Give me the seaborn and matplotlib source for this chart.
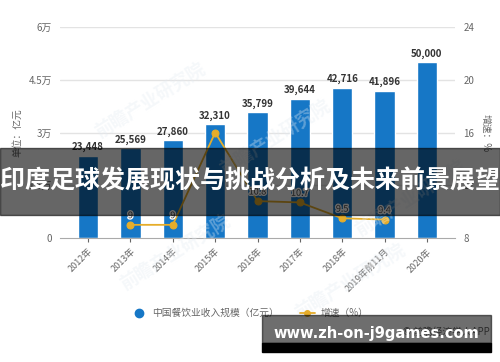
import numpy as np
import pandas as pd
import seaborn as sns
import matplotlib
matplotlib.use('Agg')
import matplotlib.pyplot as plt
import matplotlib.patheffects as pe
from matplotlib.patches import Rectangle
from matplotlib.lines import Line2D

# --- Data ---
years = ['2012年', '2013年', '2014年', '2015年', '2016年', '2017年',
         '2018年', '2019年前11月', '2020年']
revenue = [23448, 25569, 27860, 32310, 35799, 39644, 42716, 41896, 50000]
growth_years = ['2013年', '2014年', '2015年', '2016年', '2017年', '2018年', '2019年前11月']
growth = [9, 9, 16, 10.8, 10.7, 9.5, 9.4]
growth_labels = ['9', '9', '', '10.8', '10.7', '9.5', '9.4']
left_ticks = [0, 15000, 30000, 45000, 60000]
left_ticklabels = ['0', '1.5万', '3万', '4.5万', '6万']
right_ticks = [8, 12, 16, 20, 24]

BAR = '#1677c6'
LINE = '#e6ad2a'
GREY = '#666666'

sns.set_theme(style='white')
plt.rcParams['font.family'] = ['Noto Sans CJK SC', 'DejaVu Sans']

fig = plt.figure(figsize=(5, 3.62), dpi=100)
ax = fig.add_axes([0.12, 0.3425, 0.79, 0.5825])

df = pd.DataFrame({'year': years, 'revenue': revenue})
sns.barplot(data=df, x='year', y='revenue', color=BAR, width=0.48,
            saturation=1, ax=ax)
ax.set_ylim(0, 60000)
ax.set_yticks(left_ticks)
ax.set_yticklabels(left_ticklabels)
for y in left_ticks[1:]:
    ax.axhline(y, color='#e3e3e3', lw=1, zorder=0)
ax.set_xlabel('')
ax.set_ylabel('单位：亿元', fontsize=7, color=GREY, labelpad=4)
ax.tick_params(axis='y', labelsize=7, colors=GREY, length=0, pad=6)
ax.tick_params(axis='x', labelsize=6.5, colors=GREY, length=3, width=0.8,
               direction='out', bottom=True)
for lab in ax.get_xticklabels():
    lab.set_rotation(45)
    lab.set_ha('right')
    lab.set_rotation_mode('anchor')
for s in ['top', 'right', 'left']:
    ax.spines[s].set_visible(False)
ax.spines['bottom'].set_color('#aaaaaa')
ax.spines['bottom'].set_linewidth(0.8)

for i, v in enumerate(revenue):
    ax.text(i, v + 1000, f'{v:,}', ha='center', va='bottom', fontsize=7,
            fontweight='bold', color='#333333')

# growth line on right axis
ax2 = ax.twinx()
gx = [years.index(y) for y in growth_years]
sns.lineplot(x=gx, y=growth, color=LINE, lw=1.3, marker='o', markersize=5,
             markeredgecolor=LINE, ax=ax2)
ax2.set_ylim(8, 24)
ax2.set_yticks(right_ticks)
ax2.set_ylabel('增速：%', fontsize=7, color=GREY, rotation=270, labelpad=12)
ax2.tick_params(axis='y', labelsize=7, colors=GREY, length=0, pad=6)
for s in ['top', 'right', 'left', 'bottom']:
    ax2.spines[s].set_visible(False)
ax2.grid(False)
for x, v, t in zip(gx, growth, growth_labels):
    if t:
        ax2.text(x, v + 0.35, t, ha='center', va='bottom', fontsize=6.5,
                 color='#444444',
                 path_effects=[pe.withStroke(linewidth=2, foreground='white')])

# legend
handles = [Line2D([], [], marker='o', ls='', color=BAR, markersize=6),
           Line2D([], [], marker='o', color=LINE, markersize=4, lw=1.3)]
fig.legend(handles, ['中国餐饮业收入规模（亿元）', '增速（%）'],
           loc='center', bbox_to_anchor=(0.5, 0.135), ncol=2, frameon=False,
           fontsize=7, labelcolor=GREY, handlelength=1.5, columnspacing=2.2,
           handletextpad=0.6)

# faint watermarks
for wx, wy in [(0.3, 0.72), (0.55, 0.62), (0.35, 0.3), (0.7, 0.22), (0.82, 0.45)]:
    fig.text(wx, wy, '前瞻产业研究院', fontsize=13, color='#e4ebf2', alpha=0.35,
             rotation=32, ha='center', va='center', fontweight='bold', zorder=0)

fig.text(0.98, 0.083, '© 前瞻经济学人APP', fontsize=7, color=GREY,
         ha='right', va='center')

# overlay banners
fig.patches.append(Rectangle((0, 0.406), 1, 0.185, transform=fig.transFigure,
                             color='black', alpha=0.6, zorder=10))
fig.text(0.5, 0.5, '印度足球发展现状与挑战分析及未来前景展望', fontsize=18,
         fontweight='bold', color='white', ha='center', va='center', zorder=11)

fig.patches.append(Rectangle((0.524, 0.0525), 0.458, 0.077, transform=fig.transFigure,
                             color='black', alpha=0.57, zorder=10))
fig.patches.append(Rectangle((0.524, 0.0276), 0.458, 0.0249, transform=fig.transFigure,
                             color='black', zorder=10))
fig.text(0.753, 0.08, 'www.zh-on-j9games.com', fontsize=10.5, fontweight='bold',
         color='white', ha='center', va='center', zorder=11,
         family=['DejaVu Sans'])

fig.savefig('out.png', dpi=100)
